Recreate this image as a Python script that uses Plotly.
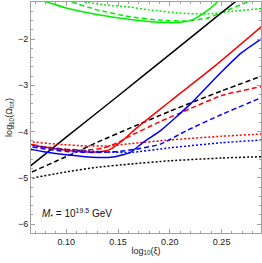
import plotly.graph_objects as go

# ---- data ----
black_solid_x = [0.060, 0.100, 0.150, 0.200, 0.250, 0.290]
black_solid_y = [-4.84, -4.12, -3.23, -2.33, -1.43, -0.72]

black_dash_x = [0.060, 0.066, 0.100, 0.130, 0.162, 0.200, 0.250, 0.290]
black_dash_y = [-4.94, -4.88, -4.54, -4.23, -3.92, -3.56, -3.12, -2.79]

black_dot_x = [0.060, 0.066, 0.100, 0.130, 0.162, 0.200, 0.250, 0.290]
black_dot_y = [-5.04, -5.01, -4.87, -4.77, -4.70, -4.63, -4.57, -4.54]

red_solid_x = [0.060, 0.066, 0.080, 0.100, 0.120, 0.130, 0.142, 0.155, 0.168, 0.200, 0.243, 0.290]
red_solid_y = [-4.26, -4.28, -4.34, -4.40, -4.44, -4.44, -4.39, -4.18, -3.92, -3.35, -2.59, -1.70]

red_dash_x = [0.060, 0.066, 0.080, 0.100, 0.120, 0.135, 0.150, 0.162, 0.191, 0.220, 0.250, 0.290]
red_dash_y = [-4.26, -4.28, -4.33, -4.38, -4.40, -4.36, -4.24, -4.09, -3.78, -3.50, -3.22, -3.02]

red_dot_x = [0.060, 0.066, 0.090, 0.120, 0.140, 0.162, 0.200, 0.250, 0.290]
red_dot_y = [-4.21, -4.22, -4.27, -4.31, -4.31, -4.26, -4.18, -4.10, -4.05]

blue_solid_x = [0.060, 0.066, 0.080, 0.100, 0.130, 0.145, 0.155, 0.162, 0.175, 0.191, 0.220, 0.249, 0.269, 0.290]
blue_solid_y = [-4.35, -4.38, -4.44, -4.50, -4.56, -4.55, -4.50, -4.45, -4.22, -3.98, -3.40, -2.73, -2.30, -1.97]

blue_dash_x = [0.060, 0.066, 0.100, 0.130, 0.150, 0.170, 0.191, 0.216, 0.250, 0.290]
blue_dash_y = [-4.31, -4.33, -4.43, -4.45, -4.43, -4.37, -4.27, -3.98, -3.63, -3.25]

blue_dot_x = [0.060, 0.066, 0.090, 0.120, 0.140, 0.162, 0.200, 0.250, 0.290]
blue_dot_y = [-4.28, -4.30, -4.37, -4.42, -4.44, -4.45, -4.35, -4.24, -4.18]

green_solid_x = [0.075, 0.0814, 0.100, 0.130, 0.1616, 0.190, 0.210, 0.222, 0.232, 0.240, 0.246, 0.252]
green_solid_y = [-1.16, -1.20, -1.33, -1.47, -1.58, -1.64, -1.64, -1.58, -1.45, -1.32, -1.20, -1.10]

green_dash_x = [0.098, 0.105, 0.130, 0.1616, 0.190, 0.215, 0.236, 0.255, 0.275, 0.285]
green_dash_y = [-1.15, -1.20, -1.37, -1.52, -1.59, -1.61, -1.55, -1.38, -1.20, -1.10]

green_dot_x = [0.110, 0.118, 0.140, 0.1616, 0.180, 0.210, 0.235, 0.260, 0.290]
green_dot_y = [-1.15, -1.20, -1.27, -1.31, -1.37, -1.44, -1.46, -1.40, -1.34]

x_tickvals = [0.10, 0.15, 0.20, 0.25]
x_ticktext = ["0.10", "0.15", "0.20", "0.25"]
y_tickvals = [-6, -5, -4, -3, -2]

RED = "#ff0000"
BLUE = "#0000ff"
GREEN = "#00ee00"
BLACK = "#000000"

series = [
    (green_dot_x, green_dot_y, GREEN, "dot"),
    (green_dash_x, green_dash_y, GREEN, "dash"),
    (green_solid_x, green_solid_y, GREEN, "solid"),
    (black_dot_x, black_dot_y, BLACK, "dot"),
    (black_dash_x, black_dash_y, BLACK, "dash"),
    (black_solid_x, black_solid_y, BLACK, "solid"),
    (red_dot_x, red_dot_y, RED, "dot"),
    (red_dash_x, red_dash_y, RED, "dash"),
    (red_solid_x, red_solid_y, RED, "solid"),
    (blue_dot_x, blue_dot_y, BLUE, "dot"),
    (blue_dash_x, blue_dash_y, BLUE, "dash"),
    (blue_solid_x, blue_solid_y, BLUE, "solid"),
]

dash_map = {"solid": "solid", "dash": "5px,3px", "dot": "2px,2px"}

fig = go.Figure()
for xs, ys, col, ds in series:
    fig.add_trace(go.Scatter(
        x=xs, y=ys, mode="lines",
        line=dict(color=col, width=1.5, dash=dash_map[ds], shape="spline", smoothing=0.5),
        showlegend=False, hoverinfo="skip",
    ))

axis_common = dict(
    showgrid=False, zeroline=False, showline=True, mirror="allticks",
    linecolor="#a0a0a0", linewidth=1, ticks="inside", ticklen=4,
    tickcolor="#a0a0a0", tickwidth=1,
    tickfont=dict(family="Liberation Sans, Arial", size=9, color="#222"),
)

fig.update_xaxes(
    range=[0.066, 0.288], tickvals=x_tickvals, ticktext=x_ticktext,
    minor=dict(ticks="inside", ticklen=2, dtick=0.01, tick0=0.0, tickcolor="#a0a0a0"),
    title=dict(text="log<sub>10</sub>(ξ)", font=dict(family="Liberation Sans, Arial", size=9, color="#222"), standoff=1),
    **axis_common,
)
fig.update_yaxes(
    range=[-6.19, -1.2], tickvals=y_tickvals,
    minor=dict(ticks="inside", ticklen=2, dtick=0.2, tick0=0.0, tickcolor="#a0a0a0"),
    title=dict(text="log<sub>10</sub>(Ω<sub>tot</sub>)", font=dict(family="Liberation Sans, Arial", size=9, color="#222"), standoff=3),
    **axis_common,
)

fig.add_annotation(
    x=0.0745, y=-5.77, xref="x", yref="y", xanchor="left", yanchor="middle",
    text="<i>M</i><sub>*</sub> = 10<sup>19.5</sup> GeV", showarrow=False,
    font=dict(family="Liberation Sans, Arial", size=10, color="#111"),
)

fig.update_layout(
    width=262, height=263,
    margin=dict(l=31, r=1, t=2, b=30),
    plot_bgcolor="white", paper_bgcolor="white",
)

fig.write_html(
    "out.html",
    config={"displayModeBar": False, "staticPlot": True},
    post_script="document.body.style.margin='0';document.body.style.overflow='hidden';",
)
